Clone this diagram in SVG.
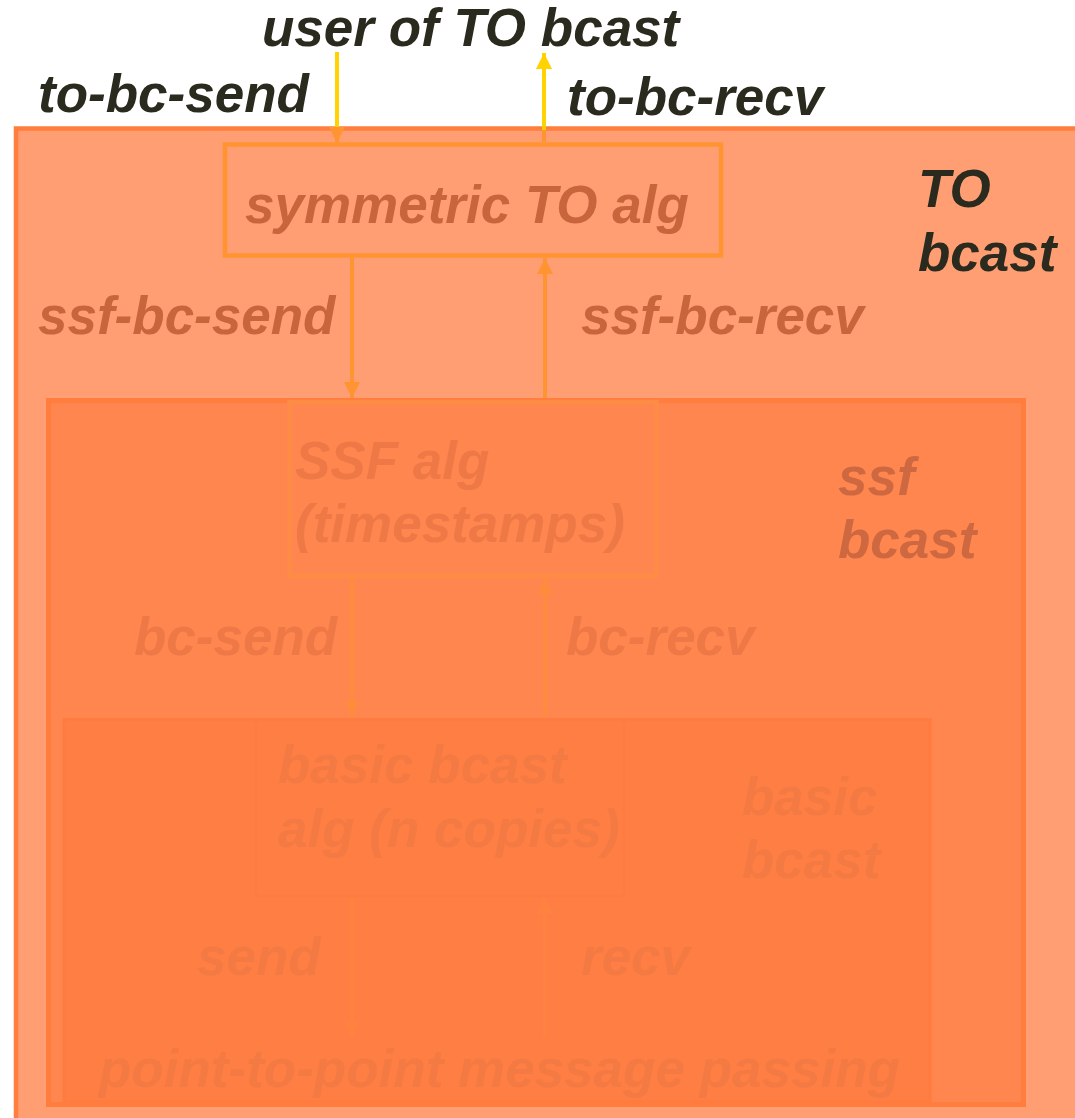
<svg xmlns="http://www.w3.org/2000/svg" width="1075" height="1118" viewBox="0 0 1075 1118">
  <style>
    text { font-family: "Liberation Sans", Arial, sans-serif; font-weight: bold; font-style: italic; font-size: 53px; }
    .dark { fill: #2b2a1f; }
    .l1 { fill: #c9653d; }
    .l2a { fill: #ee7946; }
    .l2b { fill: #cd6840; }
    .l3 { fill: #f47a43; }
    .arrow { fill: none; stroke-width: 4; }
  </style>
  <defs>
    <marker id="hy" viewBox="0 0 10 10" refX="10" refY="5" markerWidth="4" markerHeight="4" orient="auto" markerUnits="strokeWidth">
      <path d="M0,0 L10,5 L0,10 z" fill="#ffd200"/>
    </marker>
    <marker id="ho1" viewBox="0 0 10 10" refX="10" refY="5" markerWidth="4" markerHeight="4" orient="auto" markerUnits="strokeWidth">
      <path d="M0,0 L10,5 L0,10 z" fill="#ff9430"/>
    </marker>
    <marker id="ho2" viewBox="0 0 10 10" refX="10" refY="5" markerWidth="4" markerHeight="4" orient="auto" markerUnits="strokeWidth">
      <path d="M0,0 L10,5 L0,10 z" fill="#ff8c3c"/>
    </marker>
    <marker id="ho3" viewBox="0 0 10 10" refX="10" refY="5" markerWidth="4" markerHeight="4" orient="auto" markerUnits="strokeWidth">
      <path d="M0,0 L10,5 L0,10 z" fill="#ff8240"/>
    </marker>
  </defs>

  <rect width="1075" height="1118" fill="#ffffff"/>

  <!-- outer layer: TO bcast -->
  <g id="to-bcast">
    <rect x="16" y="128.5" width="1070" height="1000" fill="#ff9e73" stroke="#ff7d3d" stroke-width="4.5"/>
    <text class="dark" x="918" y="207">TO</text>
    <text class="dark" x="918" y="271">bcast</text>
  </g>

  <g id="symmetric-to-alg">
    <rect x="225" y="144.5" width="496" height="111" fill="#ff9e73" stroke="#ff9430" stroke-width="4.5"/>
    <text class="l1" x="245" y="223">symmetric TO alg</text>
  </g>

  <!-- middle layer: ssf bcast -->
  <g id="ssf-bcast">
    <rect x="48.5" y="400.5" width="975" height="704" fill="#ff864f" stroke="#ff7d3d" stroke-width="5"/>
    <text class="l2b" x="838" y="495">ssf</text>
    <text class="l2b" x="838" y="558">bcast</text>
  </g>

  <g id="ssf-alg">
    <rect x="289.5" y="402" width="367" height="174" fill="#ff864f" stroke="#ff8c45" stroke-width="4.5"/>
    <text class="l2a" x="295" y="479">SSF alg</text>
    <text class="l2a" x="295" y="542">(timestamps)</text>
  </g>

  <!-- inner layer: basic bcast -->
  <g id="basic-bcast">
    <rect x="64" y="719.5" width="866" height="382" fill="#ff7e44" stroke="#ff7b3f" stroke-width="3"/>
    <text class="l3" x="742" y="815">basic</text>
    <text class="l3" x="742" y="878">bcast</text>
  </g>

  <g id="basic-bcast-alg">
    <rect x="256" y="720" width="368" height="176" fill="#ff7e44" stroke="#ff7c40" stroke-width="3"/>
    <text class="l3" x="278" y="783">basic bcast</text>
    <text class="l3" x="278" y="847">alg (n copies)</text>
  </g>

  <g id="point-to-point">
    <text class="l3" x="99" y="1087">point-to-point message passing</text>
  </g>

  <!-- connectors -->
  <g id="connectors">
    <line class="arrow" x1="337" y1="52" x2="337" y2="128" stroke="#ffd200"/>
    <line class="arrow" x1="337" y1="128" x2="337" y2="143" stroke="#ff9430" marker-end="url(#ho1)"/>
    <line class="arrow" x1="544" y1="142" x2="544" y2="53" stroke="#ffd200" marker-end="url(#hy)"/>
    <line class="arrow" x1="544" y1="130" x2="544" y2="142" stroke="#ff9430"/>

    <line class="arrow" x1="352" y1="258" x2="352" y2="398" stroke="#ff9430" marker-end="url(#ho1)"/>
    <line class="arrow" x1="545" y1="398" x2="545" y2="258" stroke="#ff9430" marker-end="url(#ho1)"/>

    <line class="arrow" x1="352" y1="578" x2="352" y2="717" stroke="#ff8c3c" marker-end="url(#ho2)"/>
    <line class="arrow" x1="545" y1="717" x2="545" y2="578" stroke="#ff8c3c" marker-end="url(#ho2)"/>

    <line class="arrow" x1="352" y1="898" x2="352" y2="1037" stroke="#ff8240" marker-end="url(#ho3)"/>
    <line class="arrow" x1="545" y1="1037" x2="545" y2="898" stroke="#ff8240" marker-end="url(#ho3)"/>
  </g>

  <!-- connector labels -->
  <g id="labels">
    <text class="dark" x="262" y="46">user of TO bcast</text>
    <text class="dark" x="38" y="112">to-bc-send</text>
    <text class="dark" x="567" y="115">to-bc-recv</text>
    <text class="l1" x="38" y="334">ssf-bc-send</text>
    <text class="l1" x="581" y="334">ssf-bc-recv</text>
    <text class="l2a" x="134" y="655">bc-send</text>
    <text class="l2a" x="566" y="655">bc-recv</text>
    <text class="l3" x="197" y="975">send</text>
    <text class="l3" x="581" y="975">recv</text>
  </g>
</svg>
